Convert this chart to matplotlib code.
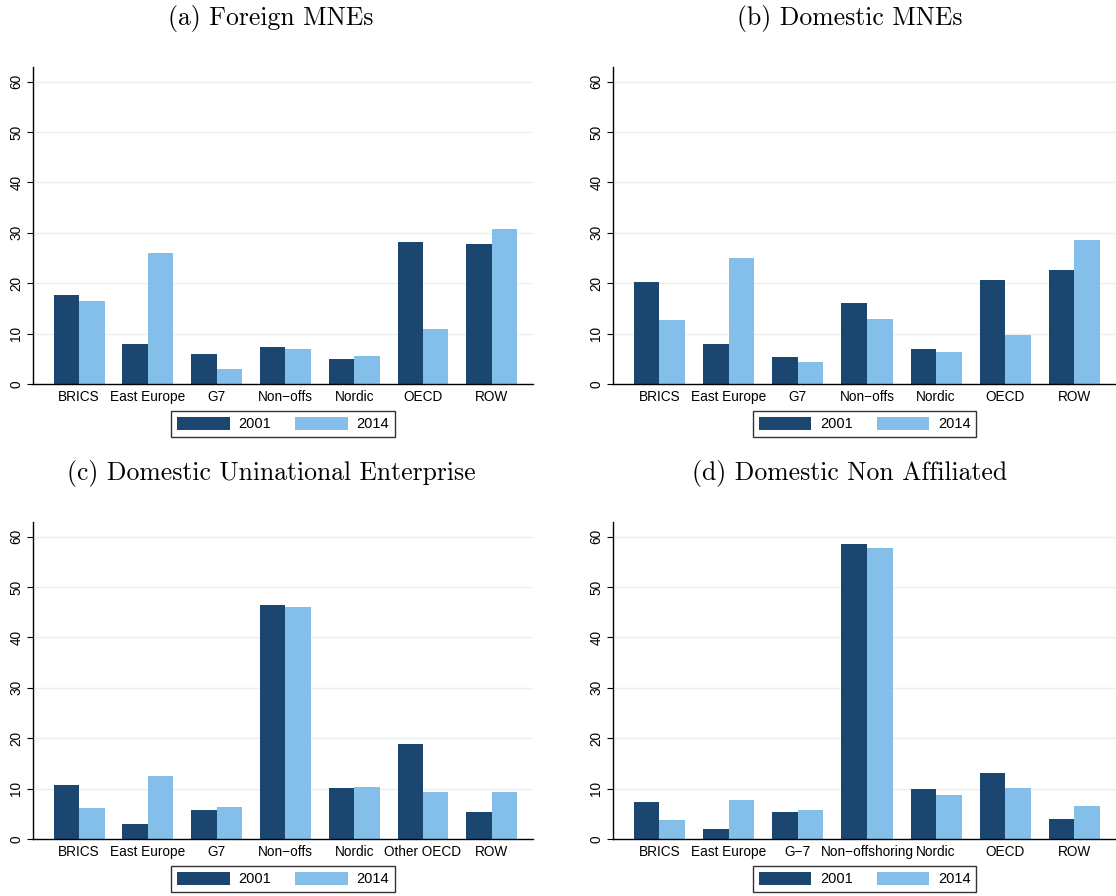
import matplotlib
matplotlib.use("Agg")
import matplotlib.pyplot as plt
import numpy as np

plt.rcParams['font.family'] = ['Liberation Sans', 'DejaVu Sans']

YEARS = ["2001", "2014"]
DARK = "#1a4670"
LIGHT = "#84bfe9"
GRID = "#e8f0f1"

cats_a = ["BRICS", "East Europe", "G7", "Non\u2212offs", "Nordic", "OECD", "ROW"]
a_2001 = [17.6, 7.9, 5.9, 7.3, 4.9, 28.1, 27.8]
a_2014 = [16.4, 25.9, 3.0, 6.9, 5.5, 10.9, 30.7]

cats_b = ["BRICS", "East Europe", "G7", "Non\u2212offs", "Nordic", "OECD", "ROW"]
b_2001 = [20.3, 7.9, 5.3, 16.0, 6.9, 20.6, 22.7]
b_2014 = [12.7, 25.1, 4.4, 12.8, 6.4, 9.7, 28.5]

cats_c = ["BRICS", "East Europe", "G7", "Non\u2212offs", "Nordic", "Other OECD", "ROW"]
c_2001 = [10.7, 3.0, 5.7, 46.5, 10.1, 18.8, 5.3]
c_2014 = [6.1, 12.5, 6.3, 46.1, 10.3, 9.4, 9.4]

cats_d = ["BRICS", "East Europe", "G\u22127", "Non\u2212offshoring", "Nordic", "OECD", "ROW"]
d_2001 = [7.3, 2.0, 5.3, 58.5, 9.9, 13.1, 4.0]
d_2014 = [3.8, 7.7, 5.7, 57.7, 8.7, 10.1, 6.6]

W, H = 1116, 896
fig = plt.figure(figsize=(W / 100, H / 100), dpi=100)

panels = [
    ("(a) Foreign MNEs", cats_a, a_2001, a_2014, 33, 533, 67, 384, 271, 18, 424),
    ("(b) Domestic MNEs", cats_b, b_2001, b_2014, 613, 1116, 67, 384, 850, 18, 424),
    ("(c) Domestic Uninational Enterprise", cats_c, c_2001, c_2014, 33, 533, 522, 839, 271, 473, 879),
    ("(d) Domestic Non Affiliated", cats_d, d_2001, d_2014, 613, 1116, 522, 839, 850, 473, 879),
]

bw = 0.37
for title, cats, v1, v2, x0, x1, y0, y1, tx, ty, ly in panels:
    ax = fig.add_axes([x0 / W, 1 - y1 / H, (x1 - x0) / W, (y1 - y0) / H])
    x = np.arange(len(cats))
    ax.bar(x - bw / 2, v1, bw, color=DARK, label=YEARS[0], zorder=2)
    ax.bar(x + bw / 2, v2, bw, color=LIGHT, label=YEARS[1], zorder=2)
    ax.set_xlim(-0.67, 6.6)
    ax.set_ylim(0, 62.9)
    ax.set_yticks(range(0, 61, 10))
    ax.set_xticks(x)
    ax.set_xticklabels(cats, fontsize=9.8)
    ax.tick_params(axis="x", length=0, pad=4)
    ax.tick_params(axis="y", length=4, width=0.8, pad=3, labelsize=9.8)
    for lab in ax.get_yticklabels():
        lab.set_rotation(90)
        lab.set_va("center")
    for y in range(10, 61, 10):
        ax.axhline(y, color=GRID, lw=1, zorder=1)
    for s in ("top", "right"):
        ax.spines[s].set_visible(False)
    for s in ("left", "bottom"):
        ax.spines[s].set_linewidth(1)
    fig.text(tx / W, 1 - ty / H, title, family="cmr10", fontsize=18.5,
             ha="center", va="center")
    leg = ax.legend(loc="center", bbox_to_anchor=((x0 + x1) / 2 / W, 1 - ly / H),
                    bbox_transform=fig.transFigure, ncol=2, fontsize=10.5,
                    handlelength=3.6, handleheight=1.0, columnspacing=1.65,
                    handletextpad=0.6, borderpad=0.4, borderaxespad=0,
                    fancybox=False, framealpha=1)
    leg.get_frame().set_edgecolor("#333333")
    leg.get_frame().set_linewidth(1)

fig.savefig("out.png", dpi=100, facecolor="white")
